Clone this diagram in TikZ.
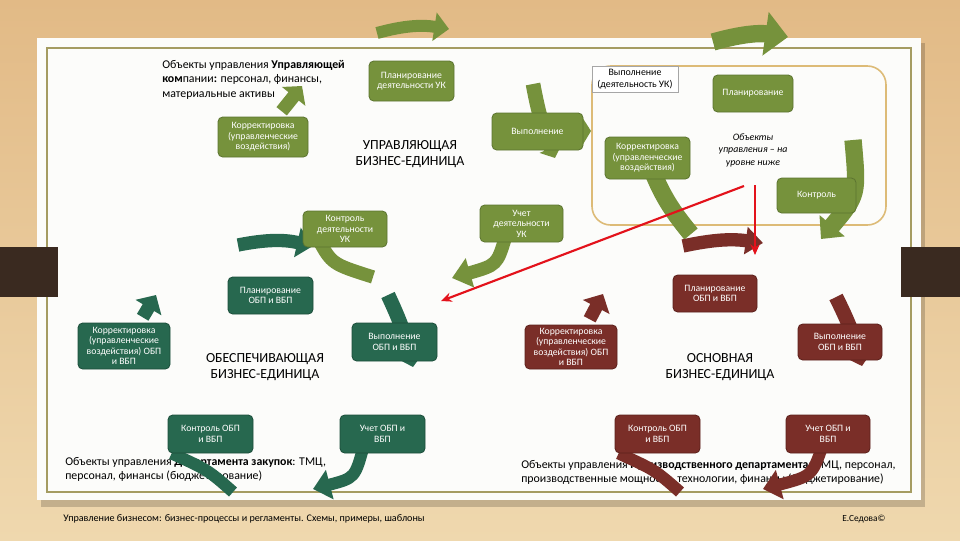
\documentclass[tikz,border=0pt]{standalone}
\usepackage{fontspec}
\setmainfont{Carlito}
\usetikzlibrary{arrows.meta,calc}
\definecolor{woodA}{HTML}{E2BA86}
\definecolor{woodB}{HTML}{EFD8AE}
\definecolor{tabc}{HTML}{3A2A20}
\definecolor{paperc}{HTML}{FCFCFA}
\definecolor{innerc}{HTML}{A59C62}
\definecolor{boxc}{HTML}{DDBB77}
\definecolor{olivec}{HTML}{76923C}
\definecolor{olivedk}{HTML}{5C7430}
\definecolor{grnc}{HTML}{27684F}
\definecolor{grndk}{HTML}{1C4E3B}
\definecolor{marc}{HTML}{7A2E28}
\definecolor{mardk}{HTML}{5C211C}
\definecolor{redc}{HTML}{E3121B}
\newcommand{\ndfont}{\fontsize{7.3}{7.9}\selectfont}
\newcommand{\txfont}{\fontsize{8.9}{10.9}\selectfont}
\newcommand{\hdfont}{\fontsize{10.4}{12.5}\selectfont}
\newcommand{\bx}[7]{\node[#6, minimum width={(#4-#2)*0.75pt}, minimum height={(#5-#3)*0.75pt}] (#1) at ({(#2+#4)/2},{(#3+#5)/2}) {#7};}
\pgfdeclarelayer{bgl}
\pgfdeclarelayer{txt}
\pgfdeclarelayer{arr}
\pgfdeclarelayer{top}
\pgfsetlayers{bgl,txt,arr,main,top}
\begin{document}
\begin{tikzpicture}[x=0.75pt,y=-0.75pt,
  nbase/.style={rounded corners=3.5pt, text=white, align=center, inner sep=0pt, font=\ndfont, line width=0.6pt},
  olv/.style={nbase, fill=olivec, draw=olivedk},
  grn/.style={nbase, fill=grnc, draw=grndk},
  mar/.style={nbase, fill=marc, draw=mardk},
  band/.style={line width=#1, line cap=butt},
  plaintext/.style={inner sep=0pt, font=\txfont, align=left, text=black},
  heading/.style={inner sep=0pt, font=\hdfont, align=center, text=black},
  redarrow/.style={draw=redc, line width=1.6pt, -{Stealth[length=8pt,width=7pt]}}
]
\useasboundingbox (0,0) rectangle (960,540);
\begin{pgfonlayer}{bgl}
  \shade[top color=woodA, bottom color=woodB] (0,0) rectangle (960,540);
  \fill[black, opacity=0.18] (41,43) rectangle (925,507);
  \fill[paperc] (37,38) rectangle (921,500);
  \draw[innerc, line width=0.8pt] (47,48) rectangle (911,492);
  \fill[tabc] (0,247) rectangle (58,297);
  \fill[tabc] (901,247) rectangle (960,297);
  \draw[boxc, line width=1.2pt, rounded corners=14pt] (592,66) rectangle (886,225);
\end{pgfonlayer}

% ---- nodes: managing unit (olive)
\bx{pud}{369}{61}{454}{101}{olv}{Планирование\\деятельности УК}
\bx{kor1}{218}{117}{308}{157}{olv}{Корректировка\\(управленческие\\воздействия)}
\bx{vyp1}{492}{113}{583}{150}{olv}{Выполнение}
\bx{kor2}{605}{137}{690}{179}{olv}{Корректировка\\(управленческие\\воздействия)}
\bx{plan2}{713}{75}{793}{112}{olv}{Планирование}
\bx{kon2}{777}{178}{856}{213}{olv}{Контроль}
\bx{kdu}{303}{211}{387}{247}{olv}{Контроль\\деятельности\\УК}
\bx{udu}{480}{205}{563}{242}{olv}{Учет\\деятельности\\УК}
% ---- supporting unit (green)
\bx{plo}{228}{277}{313}{314}{grn}{Планирование\\ОБП и ВБП}
\bx{koro}{78}{323}{170}{369}{grn}{Корректировка\\(управленческие\\воздействия) ОБП\\и ВБП}
\bx{vypo}{352}{323}{437}{361}{grn}{Выполнение\\ОБП и ВБП}
\bx{kono}{168}{415}{253}{453}{grn}{Контроль ОБП\\и ВБП}
\bx{ucho}{340}{415}{425}{453}{grn}{Учет ОБП и\\ВБП}
% ---- main unit (maroon)
\bx{plm}{673}{275}{757}{312}{mar}{Планирование\\ОБП и ВБП}
\bx{korm}{525}{325}{617}{369}{mar}{Корректировка\\(управленческие\\воздействия) ОБП\\и ВБП}
\bx{vypm}{798}{324}{882}{360}{mar}{Выполнение\\ОБП и ВБП}
\bx{konm}{615}{415}{700}{453}{mar}{Контроль ОБП\\и ВБП}
\bx{uchm}{786}{415}{870}{453}{mar}{Учет ОБП и\\ВБП}

% ---- texts
\begin{pgfonlayer}{txt}
  \node[plaintext, anchor=north west] (t1) at (162,60) {Объекты управления \textbf{Управляющей}\\\textbf{ком}пании\textbf{:} персонал, финансы,\\материальные активы};
  \node[draw=black!35, fill=white, line width=0.5pt, inner sep=0pt, minimum width={86*0.75pt}, minimum height={26*0.75pt}, align=center, font=\fontsize{7.4}{8.6}\selectfont] (lbl) at (635,79) {Выполнение\\(деятельность УК)};
  \node[inner sep=0pt, align=center, font=\fontsize{7.4}{9.4}\selectfont\itshape] (obj) at (753,150) {Объекты\\управления – на\\уровне ниже};
  \node[heading] (hu) at (410,154) {УПРАВЛЯЮЩАЯ\\БИЗНЕС-ЕДИНИЦА};
  \node[heading] (ho) at (265,367) {ОБЕСПЕЧИВАЮЩАЯ\\БИЗНЕС-ЕДИНИЦА};
  \node[heading] (hm) at (720,367) {ОСНОВНАЯ\\БИЗНЕС-ЕДИНИЦА};
  \node[plaintext, anchor=north west] (tl) at (65,457) {Объекты управления \textbf{Департамента закупок}: ТМЦ,\\персонал, финансы (бюджетирование)};
  \node[plaintext, anchor=north west] (tr) at (521,460) {Объекты управления \textbf{Производственного департамента:} ТМЦ, персонал,\\производственные мощности, технологии, финансы (бюджетирование)};
  \node[inner sep=0pt, anchor=west, font=\fontsize{7.6}{8}\selectfont] (foot) at (63,519) {Управление бизнесом: бизнес-процессы и регламенты. Схемы, примеры, шаблоны};
  \node[inner sep=0pt, anchor=west, font=\fontsize{7}{8}\selectfont] (sign) at (842,519) {Е.Седова©};
\end{pgfonlayer}

% ---- coordinates for free ends
\coordinate (a1s) at (377,33);  \coordinate (a1t) at (449,29);
\coordinate (a2s) at (713,42);  \coordinate (a2t) at (788,37);
\coordinate (k1t) at (302,86);
\coordinate (v1s) at (533,84);  \coordinate (v1t) at (555,158);
\coordinate (k2e) at (691,234);
\coordinate (r1s) at (853,140); \coordinate (r1t) at (821,239);
\coordinate (ut) at (452,278);
\coordinate (kde) at (373,277);
\coordinate (g1s) at (238,245); \coordinate (g1t) at (313,246);
\coordinate (g2t) at (156,295);
\coordinate (g3s) at (388,295); \coordinate (g3t) at (413,367);
\coordinate (g4t) at (313,489);
\coordinate (g5s) at (233,492);
\coordinate (m1s) at (683,246); \coordinate (m1t) at (763,243);
\coordinate (m2t) at (603,294);
\coordinate (m3s) at (836,297); \coordinate (m3t) at (862,366);
\coordinate (m4t) at (763,489);
\coordinate (m5s) at (680,492);
\coordinate (rds) at (744,186); \coordinate (rdt) at (441,301);
\coordinate (rvs) at (755,185); \coordinate (rvt) at (755,255);

\begin{pgfonlayer}{arr}
  % olive
  \draw[olivec, band=9pt, -{Triangle[length=11pt,width=21pt]}] (a1s) to[bend left=12] (a1t);
  \draw[olivec, band=13pt, -{Triangle[length=17pt,width=32pt]}] (a2s) to[bend left=12] (a2t);
  \draw[olivec, band=10pt, -{Triangle[length=10pt,width=22pt]}] ([xshift=14pt,yshift=4pt]kor1.north) -- (k1t);
  \draw[olivec, band=11pt, -{Triangle[length=8pt,width=18pt]}] (v1s) to[bend right=6] (v1t);
  \fill[olivec] (582,117) -- (591,131) -- (582,146) -- cycle;
  \draw[olivec, band=13pt] (kor2.center) to[bend right=10] (k2e);
  \draw[olivec, band=13pt, -{Triangle[length=13pt,width=24pt]}] (r1s) .. controls (858,195) .. (r1t);
  \draw[olivec, band=10pt, -{Triangle[length=14pt,width=22pt]}] ([xshift=-12pt,yshift=4pt]udu.south) .. controls (497,265) .. (ut);
  \draw[olivec, band=10pt] ([xshift=-20pt,yshift=6pt]kdu.south) .. controls (332,264) .. (kde);
  % green
  \draw[grnc, band=10pt, -{Triangle[length=12pt,width=22pt]}] (g1s) to[bend left=12] (g1t);
  \draw[grnc, band=10pt, -{Triangle[length=11pt,width=22pt]}] ([xshift=14pt,yshift=4pt]koro.north) -- (g2t);
  \draw[grnc, band=11pt, -{Triangle[length=8pt,width=18pt]}] (g3s) to[bend left=6] (g3t);
  \draw[grnc, band=9pt, -{Triangle[length=13pt,width=22pt]}] ([xshift=-14pt,yshift=6pt]ucho.south) .. controls (355,478) .. (g4t);
  \draw[grnc, band=9pt] (g5s) .. controls (208,470) .. ([xshift=3pt]kono.south west);
  % maroon
  \draw[marc, band=10pt, -{Triangle[length=13pt,width=20pt]}] (m1s) to[bend left=10] (m1t);
  \draw[marc, band=10pt, -{Triangle[length=11pt,width=22pt]}] ([xshift=14pt,yshift=4pt]korm.north) -- (m2t);
  \draw[marc, band=11pt, -{Triangle[length=8pt,width=18pt]}] (m3s) to[bend left=6] (m3t);
  \draw[marc, band=9pt, -{Triangle[length=13pt,width=22pt]}] ([xshift=-4pt,yshift=6pt]uchm.south) .. controls (812,476) .. (m4t);
  \draw[marc, band=9pt] (m5s) .. controls (655,470) .. ([xshift=3pt]konm.south west);
\end{pgfonlayer}

\begin{pgfonlayer}{top}
  \draw[redarrow] (rds) -- (rdt);
  \draw[redarrow] (rvs) -- (rvt);
\end{pgfonlayer}
\end{tikzpicture}
\end{document}
